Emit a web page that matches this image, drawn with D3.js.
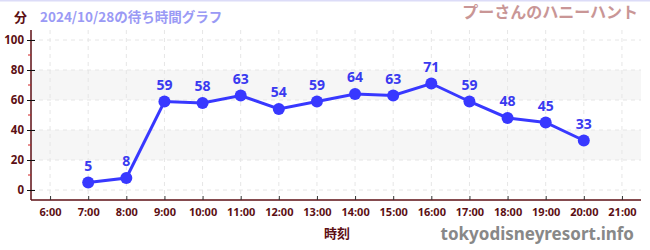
<!DOCTYPE html>
<html>
<head>
<meta charset="utf-8">
<script src="https://cdn.jsdelivr.net/npm/d3@7"></script>
<style>
body { margin: 0; background: #fff; }
svg { font-family: "Noto Sans CJK JP", "Noto Sans", sans-serif; }
</style>
</head>
<body>
<svg width="650" height="250"></svg>
<script>
var hours = [7, 8, 9, 10, 11, 12, 13, 14, 15, 16, 17, 18, 19, 20]
var waits = [5, 8, 59, 58, 63, 54, 59, 64, 63, 71, 59, 48, 45, 33]
var xTicks = [6, 7, 8, 9, 10, 11, 12, 13, 14, 15, 16, 17, 18, 19, 20, 21]
var yTicks = [0, 20, 40, 60, 80, 100]
var yMinor = [10, 30, 50, 70, 90]
var bands = [[20, 40], [60, 80]]

function draw() {
    var svg = d3.select("svg")
    var pxL = 31, pxR = 641, pxT = 30, pxB = 200
    var dark = "#5c0f14"

    var scX = d3.scaleLinear().domain([5.5, 21.5]).range([pxL, pxR])
    var scY = d3.scaleLinear().domain([-20 / 3, 320 / 3]).range([pxB, pxT])

    // top border
    svg.append("line").attr("x1", 0).attr("x2", 650).attr("y1", 0.5).attr("y2", 0.5)
        .attr("stroke", "#dcdcf8").attr("stroke-width", 2)

    // bands
    svg.append("g").selectAll("rect").data(bands).enter().append("rect")
        .attr("x", pxL).attr("width", pxR - pxL)
        .attr("y", d => scY(d[1])).attr("height", d => scY(d[0]) - scY(d[1]))
        .attr("fill", "#f6f6f6")

    // grid
    svg.append("g").selectAll("line").data(xTicks).enter().append("line")
        .attr("x1", d => scX(d)).attr("x2", d => scX(d))
        .attr("y1", pxT).attr("y2", pxB)
        .attr("stroke", "#e6e6e6").attr("stroke-dasharray", "4,4")
    svg.append("g").selectAll("line").data(yTicks).enter().append("line")
        .attr("x1", pxL).attr("x2", pxR)
        .attr("y1", d => scY(d)).attr("y2", d => scY(d))
        .attr("stroke", "#e6e6e6").attr("stroke-dasharray", "4,4")

    // y axis
    var yAx = svg.append("g").attr("transform", `translate(${pxL},0)`)
        .call(d3.axisLeft(scY).tickValues(yTicks).tickSize(4).tickPadding(3))
    yAx.select(".domain").attr("d", `M0,${pxT}V${pxB}`).attr("stroke", dark).attr("stroke-width", 1.5)
    yAx.selectAll(".tick line").attr("x2", -4).attr("x1", 4).attr("stroke", "#111")
    yAx.selectAll("text").attr("fill", dark).attr("font-size", 11.5).attr("font-weight", "bold")
        .attr("font-family", "'Noto Sans', sans-serif")
    svg.append("g").selectAll("line").data(yMinor).enter().append("line")
        .attr("x1", pxL - 3).attr("x2", pxL)
        .attr("y1", d => scY(d)).attr("y2", d => scY(d))
        .attr("stroke", "#d02020")

    // x axis
    var xAx = svg.append("g").attr("transform", `translate(0,${pxB})`)
        .call(d3.axisBottom(scX).tickValues(xTicks).tickSize(0).tickPadding(8)
            .tickFormat(d => d + ":00"))
    xAx.select(".domain").attr("d", `M${pxL},0H${pxR}`).attr("stroke", dark).attr("stroke-width", 1.5)
    xAx.selectAll(".tick").append("line").attr("y1", 0).attr("y2", -4).attr("stroke", "#333")
    xAx.selectAll("text").attr("fill", dark).attr("font-size", 11).attr("font-weight", "bold")
        .attr("font-family", "'Noto Sans', sans-serif")

    // line + points
    var data = hours.map((h, i) => ({ h: h, w: waits[i] }))
    var lineMaker = d3.line().x(d => scX(d.h)).y(d => scY(d.w))
    svg.append("path").attr("d", lineMaker(data))
        .attr("fill", "none").attr("stroke", "#3838ff").attr("stroke-width", 3)
    svg.append("g").selectAll("circle").data(data).enter().append("circle")
        .attr("cx", d => scX(d.h)).attr("cy", d => scY(d.w)).attr("r", 6)
        .attr("fill", "#3838ff")
    svg.append("g").selectAll("text").data(data).enter().append("text")
        .attr("x", d => scX(d.h)).attr("y", d => scY(d.w) - 12)
        .attr("text-anchor", "middle").attr("fill", "#3a3af0")
        .attr("font-size", 14).attr("font-weight", "bold")
        .attr("font-family", "'Noto Sans', sans-serif")
        .text(d => d.w)

    // titles
    svg.append("text").attr("x", 14).attr("y", 22).attr("fill", dark)
        .attr("font-size", 13).attr("font-weight", "bold").text("分")
    svg.append("text").attr("x", 40).attr("y", 22).attr("fill", "#9a9af5")
        .attr("font-size", 13.5).attr("font-weight", "bold").text("2024/10/28の待ち時間グラフ")
    svg.append("text").attr("x", 638).attr("y", 18).attr("text-anchor", "end")
        .attr("fill", "#c99696").attr("font-size", 16).attr("font-weight", "bold")
        .text("プーさんのハニーハント")
    svg.append("text").attr("x", 337).attr("y", 238).attr("text-anchor", "middle")
        .attr("fill", dark).attr("font-size", 13).attr("font-weight", "bold").text("時刻")
    svg.append("text").attr("x", 634).attr("y", 240).attr("text-anchor", "end")
        .attr("fill", "#888").attr("font-size", 17).attr("font-weight", "bold")
        .attr("font-family", "'Noto Sans', sans-serif")
        .text("tokyodisneyresort.info")
}

draw()
</script>
</body>
</html>
